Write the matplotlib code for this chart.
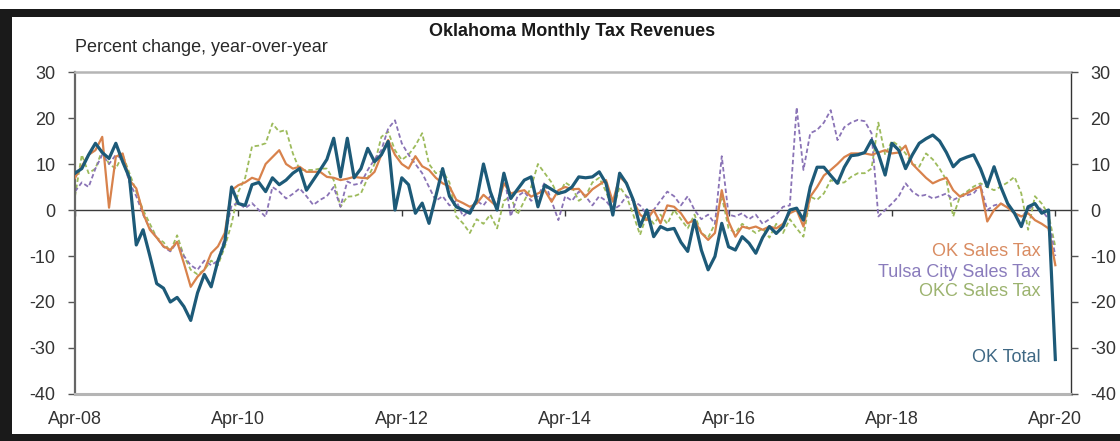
import matplotlib
matplotlib.use("Agg")
import matplotlib.pyplot as plt
import matplotlib.patches as patches
import numpy as np

plt.rcParams['font.family'] = ['Liberation Sans', 'DejaVu Sans']
plt.rcParams['axes.unicode_minus'] = False

# monthly values, Apr-08 .. Apr-20 (one row = 12 months)
ok_total = [
    8, 9, 12, 14.5, 12.5, 11.2, 14.5, 10.5, 7, -7.6, -4.3, -10,
    -16, -17, -20, -19, -21, -24, -18, -14, -16.7, -11, -7, 5,
    1.4, 1, 5.5, 6, 4, 7, 5.5, 6.5, 8, 9, 4.3, 6.5,
    8.7, 11, 15.6, 7.2, 15.6, 7, 9, 13.4, 10.5, 12, 14.9, 0,
    7, 5.5, -0.7, 1.5, -2.9, 3, 9, 3, 0.7, 0, -0.7, 2.2,
    10, 4, 0, 8, 2.5, 4.5, 6.5, 7.2, 0.7, 5.4, 4.5, 3.6,
    4, 5, 7.2, 7, 7.2, 8.3, 5.8, -1.1, 8, 5.8, 2.2, -3.6,
    0, -5.8, -3.6, -4.3, -4, -7, -9, -2.2, -8.7, -13, -10.1, -2.9,
    -8, -8.7, -5.8, -7.2, -9.4, -6, -3.6, -5.1, -3.6, 0, 0.4, -2.2,
    5, 9.3, 9.3, 7.5, 5.8, 9.3, 11.8, 12, 12.5, 15.2, 12.2, 7.6,
    14.5, 13, 9, 12, 14.5, 15.5, 16.3, 15, 12.5, 9.4, 10.9, 11.5,
    12, 9, 5.1, 9.4, 5, 1.4, -0.7, -3.6, 0.7, 1.4, -0.7, 0,
    -32.5,
]

ok_sales = [
    7, 9.5, 12, 13, 15.9, 0.5, 11.6, 12.3, 6.5, 4.7, -0.7, -4.3,
    -6, -7.9, -8.7, -6.9, -11.6, -16.7, -14.5, -13, -9.4, -7.9, -5, 4.3,
    5.4, 6, 7, 6.5, 10, 11.5, 13, 10, 9, 9.4, 8.3, 8.3,
    8.3, 7.2, 7, 6.5, 6.8, 7.2, 7, 6.9, 8.3, 12, 15.2, 12,
    10, 9, 11.7, 9.5, 8.7, 7, 5.8, 5.1, 2.2, 1.5, 0.7, 1.4,
    3.3, 2, 0.7, 5.8, 3.6, 4, 4.3, 2.9, 3.6, 4.3, 1.8, 4.3,
    5, 4.5, 4.6, 2.9, 4.5, 5.5, 6.5, 1.8, 7.2, 5.8, 2, -1,
    -2.2, 0, -2.9, 1, 0.7, -0.7, -2.9, -2.2, -5, -6.5, -5, 4.3,
    -2.5, -5.8, -3.6, -4, -3.6, -4.3, -3.6, -4, -3, -0.7, 0, -3.6,
    2.9, 5, 7.5, 8.7, 10, 11.5, 12.3, 12.3, 12.3, 12, 12.5, 13,
    12.3, 12.5, 14, 10, 8.5, 7, 5.8, 6.5, 7, 4.3, 2.9, 3.6,
    4.5, 5.1, -2.5, 0, 1.4, 0.5, -0.7, -1.4, -0.7, -2.2, -3, -4,
    -12,
]

tulsa_sales = [
    4, 6, 5, 9, 12, 10, 12, 11, 6, 3, -1, -4,
    -6, -8, -9, -7, -10, -12, -13, -11, -12, -11, -6, 1,
    1.5, 0.4, 1.5, 0, -1.5, 5, 4, 2.5, 3.5, 4.7, 3, 1.1,
    2.2, 3, 5, 0.7, 6.2, 5.5, 5.8, 8.7, 11, 13, 17.7, 19.5,
    14.5, 12, 10, 8, 5, 2, 3, 1, 2, -1.4, 0, 2,
    1, 3, 1, 8, -1.4, 3, 4, 2, 3, 6, 2, -2.2,
    3, 2, 4, 3, 1, 3, 2, 0, 1, 3, 2, 1,
    -1, 0, 2, 4, 3, 1, 3, 0, -2, -1, -3, 11.7,
    -1, -1.4, -0.7, -2, -1, -3, -2, -1, 0.7, 1, 22.3, 8.7,
    16.7, 17.4, 19, 21.7, 15.2, 18, 19, 19.6, 19.3, 16.7, -1.4, 0,
    1.4, 3, 5.8, 4, 3, 3.3, 2.5, 3, 3.6, 2.2, 2.9, 3.2,
    3.6, 5.4, 0, 1, 1.4, 0.7, -0.7, -1.4, 0, 1.4, 0, -2,
    -10,
]

okc_sales = [
    3, 12, 8, 9, 13, 10, 9, 12, 8, 4, 0, -3,
    -6, -7, -9, -5.5, -10, -13, -14, -13, -11, -12, -8, -3,
    4, 7, 13.8, 14, 14.5, 18.8, 17, 17.4, 12.3, 8.7, 8.7, 8.7,
    9, 9, 6.5, 0.7, 2.9, 3, 3.6, 7, 10, 15.9, 17, 13,
    10.9, 12, 14, 16.7, 10, 8, 8.5, 6, -1.4, -2.9, -5, -2,
    -3, -1, -4, 2, 3, -1, 2, 5, 10, 8, 6, 3,
    6, 5, 2, 3, 6, 7, 4, 0, 5, 3, -1, -5.4,
    -1, -3, -1, -3, 0, -2, -4, -1, -5, -6, -3, 3,
    -4, -5, -3, -4, -5, -4, -6, -3, -5, -2, -4, -5.8,
    2.9, 2.2, 3.6, 6.5, 5.8, 6, 7.2, 8, 8, 9, 19, 12,
    15, 14, 12.3, 10, 9.4, 12.3, 11, 9, 6.5, -1.4, 3, 4,
    5.1, 5.8, 5, 4.3, 5.1, 6, 7.2, 3.6, -4.3, 3, 1.4, -1,
    -8,
]

tick_months = [0, 24, 48, 72, 96, 120, 144]
tick_labels = ["Apr-08", "Apr-10", "Apr-12", "Apr-14", "Apr-16", "Apr-18", "Apr-20"]
y_ticks = [30, 20, 10, 0, -10, -20, -30, -40]

series_labels = ["OK Sales Tax", "Tulsa City Sales Tax", "OKC Sales Tax", "OK Total"]
label_values = [-9.1, -13.5, -17.8, -32]

c_total = '#1d5a78'
c_sales = '#d8824c'
c_tulsa = '#8a73b6'
c_okc = '#9dbb5c'
label_colors = ['#d98c62', '#8a7cbc', '#9cb36f', '#3f6884']

months = np.arange(len(ok_total))

fig = plt.figure(figsize=(11.2, 4.41), dpi=100)
fig.patch.set_facecolor('white')

# black frame of the screenshot
fig.add_artist(patches.Rectangle((0, 1 - 17 / 441), 1, 8 / 441, transform=fig.transFigure,
                                 facecolor='#1a1a1a', edgecolor='none'))
fig.add_artist(patches.Rectangle((0, 0), 12 / 1120, 1 - 9 / 441, transform=fig.transFigure,
                                 facecolor='#1a1a1a', edgecolor='none'))
fig.add_artist(patches.Rectangle((0, 0), 1, 7 / 441, transform=fig.transFigure,
                                 facecolor='#1a1a1a', edgecolor='none'))

ax = fig.add_axes([75 / 1120, 47 / 441, 996 / 1120, 322 / 441])
ax.set_xlim(0, 146.3)
ax.set_ylim(-40, 30)

ax.axhline(0, color='#3a3a3a', lw=1.0, zorder=1)
ax.vlines(tick_months, -1.2, 0, color='#3a3a3a', lw=1.0, zorder=1)

ax.plot(months, okc_sales, color=c_okc, lw=1.3, ls=(0, (2.5, 1.5)), zorder=2)
ax.plot(months, tulsa_sales, color=c_tulsa, lw=1.3, ls=(0, (2.5, 1.5)), zorder=2)
ax.plot(months, ok_sales, color=c_sales, lw=1.6, zorder=3)
ax.plot(months, ok_total, color=c_total, lw=2.3, zorder=4)

for lab, val, col in zip(series_labels, label_values, label_colors):
    ax.text(141.8, val, lab, ha='right', va='center', fontsize=13, color=col, zorder=5)

ax.set_xticks(tick_months)
ax.set_xticklabels(tick_labels)
ax.set_yticks(y_ticks)
ax.tick_params(axis='x', length=0, pad=12, labelsize=13, colors='#333333')
ax.tick_params(axis='y', direction='out', length=5, width=1, pad=9, labelsize=13,
               colors='#333333', color='#555555')

ax.spines['left'].set_color('#666666')
ax.spines['left'].set_linewidth(1.6)
ax.spines['top'].set_color('#b5b5b5')
ax.spines['top'].set_linewidth(1.8)
ax.spines['bottom'].set_color('#b5b5b5')
ax.spines['bottom'].set_linewidth(2.2)
ax.spines['right'].set_color('#333333')
ax.spines['right'].set_linewidth(1.0)

ax2 = ax.twinx()
ax2.set_ylim(-40, 30)
ax2.set_yticks(y_ticks)
ax2.tick_params(axis='y', direction='out', length=5, width=1, pad=9, labelsize=13,
                colors='#333333', color='#555555')
for s in ax2.spines.values():
    s.set_visible(False)

fig.text(572 / 1120, 1 - 32 / 441, "Oklahoma Monthly Tax Revenues", ha='center', va='center',
         fontsize=13, fontweight='bold', color='#1a1a1a')
fig.text(75 / 1120, 1 - 48 / 441, "Percent change, year-over-year", ha='left', va='center',
         fontsize=13, color='#2a2a2a')

fig.savefig("out.png", dpi=100)
